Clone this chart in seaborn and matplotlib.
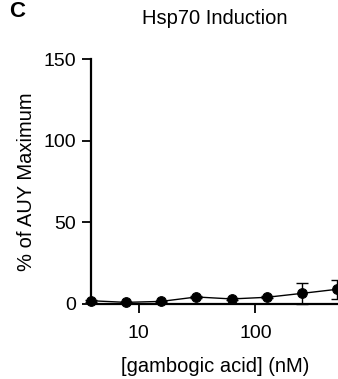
import matplotlib
matplotlib.use("Agg")
import matplotlib.pyplot as plt
import matplotlib.ticker as mticker
import seaborn as sns
import pandas as pd

# data
conc_nM = [3.9, 7.8, 15.6, 31.25, 62.5, 125, 250, 500]
pct_auy_max = [2.0, 1.0, 1.6, 4.3, 3.1, 4.1, 6.5, 9.0]
sd = [0.5, 0.5, 0.5, 0.5, 0.5, 0.5, 6.2, 5.7]
x_ticks = [10, 100]
y_ticks = [0, 50, 100, 150]

title = "Hsp70 Induction"
xlabel = "[gambogic acid] (nM)"
ylabel = "% of AUY Maximum"
panel = "C"

sns.set_theme(style="white")
plt.rcParams['font.family'] = ['Liberation Sans', 'DejaVu Sans']

W, H = 338, 379
fig = plt.figure(figsize=(W / 100, H / 100), dpi=100)
ax = fig.add_axes([91 / W, (H - 304) / H, (338 - 91) / W, (304 - 59) / H])

df = pd.DataFrame({"conc": conc_nM, "pct": pct_auy_max, "sd": sd})

ax.errorbar(df["conc"], df["pct"], yerr=df["sd"], fmt="none", ecolor="black",
            elinewidth=1.0, capsize=4, capthick=1.0, clip_on=False, zorder=2)
sns.lineplot(data=df, x="conc", y="pct", ax=ax, color="black", linewidth=1.0,
             marker="o", markersize=7, markeredgecolor="black",
             markerfacecolor="black", clip_on=False, zorder=3)

ax.set_xscale("log")
ax.set_xlim(3.9, 510)
ax.set_ylim(0, 150)
ax.xaxis.set_major_locator(mticker.FixedLocator(x_ticks))
ax.xaxis.set_minor_locator(mticker.NullLocator())
ax.xaxis.set_major_formatter(mticker.FixedFormatter([str(t) for t in x_ticks]))
ax.set_yticks(y_ticks)

for s in ["top", "right"]:
    ax.spines[s].set_visible(False)
for s in ["left", "bottom"]:
    ax.spines[s].set_linewidth(1.6)
    ax.spines[s].set_color("black")

ax.tick_params(axis="both", which="major", direction="out", length=6.5, width=1.3,
               color="black", labelsize=14, bottom=True, left=True,
               labelcolor="black")
ax.tick_params(axis="x", pad=8.5)
ax.tick_params(axis="y", pad=4)

ax.set_xlabel(xlabel, fontsize=14.5, color="black")
ax.set_ylabel(ylabel, fontsize=14.5, color="black")
ax.xaxis.label.set_va("center")
ax.yaxis.label.set_va("center")
ax.yaxis.set_label_coords((27 - 91) / 247, 0.5)
ax.xaxis.set_label_coords((215 - 91) / 247, (304 - 367) / 245)

fig.text(215 / W, 1 - 19 / H, title, fontsize=14.5, color="black",
         ha="center", va="center")

fig.text(9 / W, 1 - 17 / H, panel, fontsize=16, fontweight="bold",
         ha="left", va="baseline", color="black")

fig.savefig("out.png", dpi=100, facecolor="white")
